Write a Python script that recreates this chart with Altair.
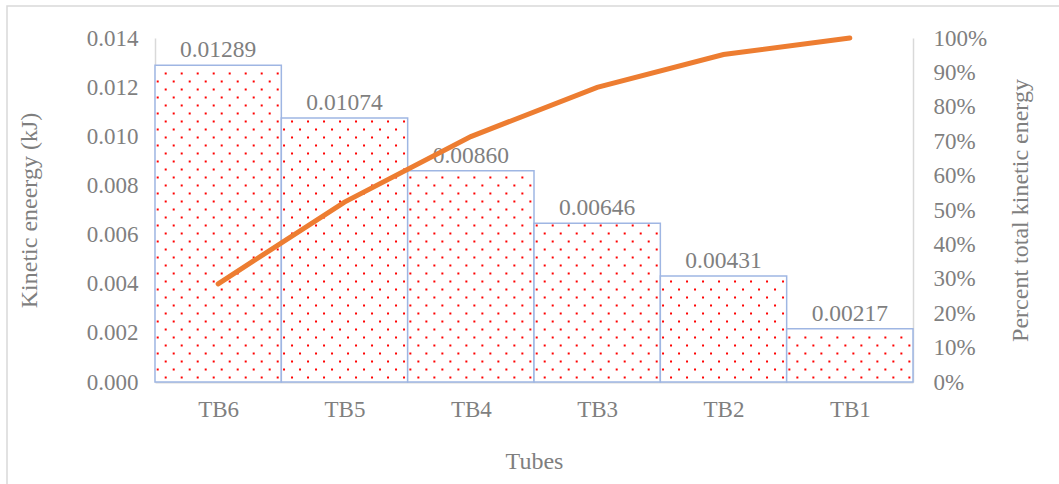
import altair as alt
import numpy as np
import pandas as pd

# Kinetic energy per tube, in Pareto order
tubes = ["TB6", "TB5", "TB4", "TB3", "TB2", "TB1"]
energy_kj = [0.01289, 0.01074, 0.00860, 0.00646, 0.00431, 0.00217]

left_ticks = [0.000, 0.002, 0.004, 0.006, 0.008, 0.010, 0.012, 0.014]
right_ticks = [0.0, 0.1, 0.2, 0.3, 0.4, 0.5, 0.6, 0.7, 0.8, 0.9, 1.0]

cum_share = np.cumsum(energy_kj) / np.sum(energy_kj)
idx = np.arange(len(tubes))
df = pd.DataFrame({
    "tube": tubes,
    "energy": energy_kj,
    "cum": cum_share,
    "x0": idx,
    "x1": idx + 1,
    "xc": idx + 0.5,
})

FONT = "Liberation Serif"
GREY = "#7f7f7f"
LINE_GREY = "#d9d9d9"
W, H = 758, 344
N = len(tubes)
TICK_FS = 23

label_lookup = "[" + ",".join(f"'{t}'" for t in tubes) + "]"

x_scale = alt.Scale(domain=[0, N], nice=False, zero=False)
x_axis = alt.Axis(
    title="Tubes", values=[i + 0.5 for i in range(N)],
    labelExpr=f"{label_lookup}[floor(datum.value)]",
    labelAngle=0, grid=False, ticks=False, tickSize=0, labelPadding=16,
    domainColor=LINE_GREY, domainWidth=2, labelFont=FONT, labelFontSize=TICK_FS,
    labelColor=GREY, titleFont=FONT, titleFontSize=24, titleColor=GREY,
    titleFontWeight="normal", titleX=W / 2, titleY=79,
    titleBaseline="middle", titleAlign="center",
)

y_left = alt.Y(
    "energy:Q",
    scale=alt.Scale(domain=[0, 0.014], nice=False),
    axis=alt.Axis(
        title="Kinetic eneergy (kJ)", values=left_ticks, format=".3f",
        grid=False, ticks=False, tickSize=0, labelPadding=17,
        domainColor=LINE_GREY, domainWidth=1.5, labelFont=FONT, labelFontSize=TICK_FS,
        labelColor=GREY, titleFont=FONT, titleFontSize=24, titleColor=GREY,
        titleFontWeight="normal", titleX=-126, titleY=H / 2,
        titleBaseline="middle", titleAlign="center", titleAngle=270,
    ),
)

base = alt.Chart(df)

bars = base.mark_rect(fill="white", stroke="#9fb6e3", strokeWidth=1.5).encode(
    x=alt.X("x0:Q", scale=x_scale, axis=x_axis),
    x2="x1:Q",
    y=y_left,
    y2=alt.datum(0),
)

# dotted pattern inside each bar: staggered rows of small red dots
row_step = 0.0003256
bar_px = W / N
dots = (
    base.transform_calculate(
        ks=f"sequence(0, floor((datum.energy - 0.00008 - 0.000183) / {row_step}) + 1)",
        cs="sequence(0, 8)",
    )
    .transform_flatten(["ks"], as_=["k"])
    .transform_flatten(["cs"], as_=["c"])
    .transform_calculate(
        yv=f"0.000183 + datum.k * {row_step}",
        xv=f"datum.x0 + (datum.c * 16 + (datum.k % 2 == 0 ? 10.7 : 2.7)) / {bar_px}",
    )
    .mark_square(size=4, color="#ff0000", opacity=1)
    .encode(x=alt.X("xv:Q"), y=alt.Y("yv:Q"))
)

labels = base.mark_text(
    baseline="bottom", dy=-3, font=FONT, fontSize=23.5, color=GREY
).encode(
    x=alt.X("xc:Q"),
    y=alt.Y("energy:Q"),
    text=alt.Text("energy:Q", format=".5f"),
)

left = alt.layer(bars, dots, labels)

line = base.mark_line(color="#ed7d31", strokeWidth=5, strokeCap="round").encode(
    x=alt.X("xc:Q"),
    y=alt.Y(
        "cum:Q",
        scale=alt.Scale(domain=[0, 1], nice=False),
        axis=alt.Axis(
            title="Percent total kinetic energy", orient="right", values=right_ticks,
            format=".0%", grid=False, ticks=False, tickSize=0, labelPadding=20,
            domainColor=LINE_GREY, domainWidth=1.5, labelFont=FONT, labelFontSize=TICK_FS,
            labelColor=GREY, titleFont=FONT, titleFontSize=24, titleColor=GREY,
            titleFontWeight="normal", titleX=107, titleY=H / 2,
            titleBaseline="middle", titleAlign="center", titleAngle=270,
        ),
    ),
)

frame = alt.Chart(alt.Data(values=[{}])).mark_rect(
    fill="transparent", stroke=LINE_GREY, strokeWidth=1.5
).encode(
    x=alt.value(-148), x2=alt.value(W + 200), y=alt.value(-32), y2=alt.value(H + 200)
)

chart = (
    alt.layer(frame, left, line)
    .resolve_scale(y="independent")
    .properties(
        width=W,
        height=H,
        autosize=alt.AutoSizeParams(type="none"),
        padding={"left": 155, "top": 38, "right": 146, "bottom": 102},
    )
    .configure_view(stroke=None)
)

chart.save("out.html", embed_options={"renderer": "svg", "actions": False})
